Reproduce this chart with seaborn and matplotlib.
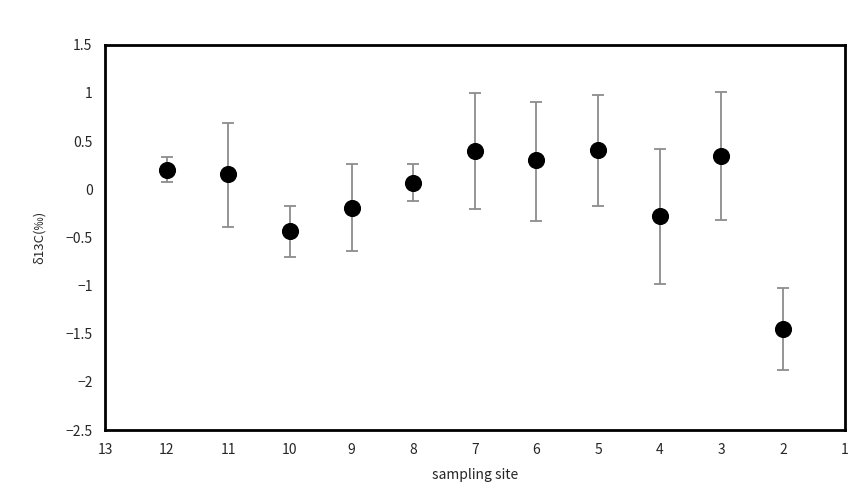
import numpy as np
import pandas as pd
import matplotlib
matplotlib.use('Agg')
import matplotlib.pyplot as plt
import seaborn as sns

# data
sites = [12, 11, 10, 9, 8, 7, 6, 5, 4, 3, 2]
d13c = [0.20, 0.16, -0.43, -0.19, 0.06, 0.40, 0.30, 0.41, -0.28, 0.34, -1.45]
err_low = [0.08, -0.39, -0.70, -0.64, -0.12, -0.21, -0.33, -0.17, -0.98, -0.32, -1.88]
err_high = [0.33, 0.69, -0.17, 0.26, 0.26, 1.00, 0.91, 0.98, 0.42, 1.01, -1.03]
x_ticks = list(range(13, 0, -1))
y_ticks = [1.5, 1, 0.5, 0, -0.5, -1, -1.5, -2, -2.5]

df = pd.DataFrame({'site': sites, 'd13c': d13c, 'lo': err_low, 'hi': err_high})

sns.set_style("white")
plt.rcParams['font.family'] = ['Noto Sans CJK JP', 'DejaVu Sans']

fig = plt.figure(figsize=(8.61, 4.92), dpi=100)
ax = fig.add_axes([0.122, 0.126, 0.859, 0.783])

yerr = np.array([df['d13c'] - df['lo'], df['hi'] - df['d13c']])
ax.errorbar(df['site'], df['d13c'], yerr=yerr, fmt='none', ecolor='#8c8c8c',
            elinewidth=1.3, capsize=4.5, capthick=1.3, zorder=1)
sns.scatterplot(data=df, x='site', y='d13c', color='black', s=130,
                edgecolor='black', marker='o', ax=ax, zorder=2)

ax.set_xlim(13, 1)
ax.set_ylim(-2.5, 1.5)
ax.set_xticks(x_ticks)
ax.set_xticklabels([str(t) for t in x_ticks])
ax.set_yticks(y_ticks)
ax.set_yticklabels([('\u2212' + f'{abs(t):g}') if t < 0 else f'{t:g}' for t in y_ticks])
ax.tick_params(axis='both', direction='in', length=4, width=0.8, color='#555555',
               labelsize=10, pad=9)
for s in ax.spines.values():
    s.set_linewidth(2)
    s.set_color('black')

ax.set_xlabel('sampling site', fontsize=10, labelpad=8)
ax.set_ylabel('δ13C(‰)', fontsize=9.5, labelpad=14)

fig.savefig('out.png', dpi=100)
